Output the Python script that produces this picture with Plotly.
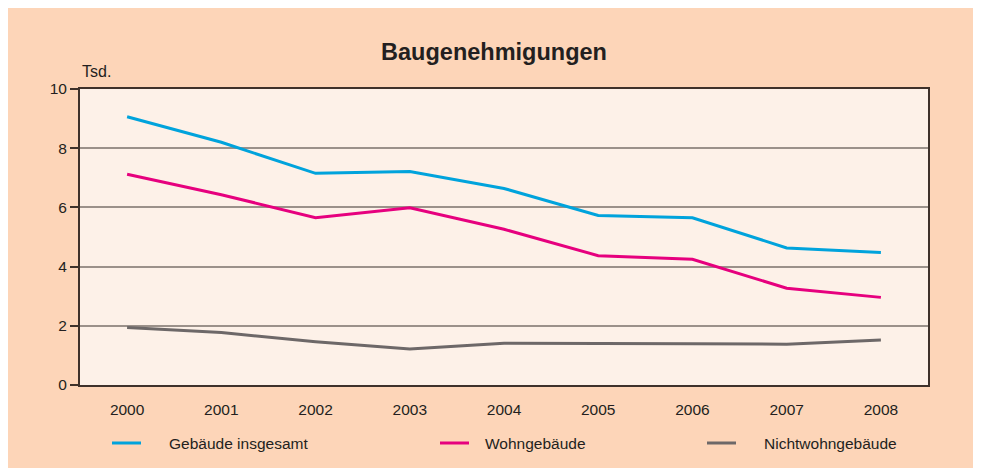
import plotly.graph_objects as go

years = ["2000", "2001", "2002", "2003", "2004", "2005", "2006", "2007", "2008"]
gebaeude_insgesamt = [9.06, 8.20, 7.15, 7.21, 6.64, 5.73, 5.65, 4.63, 4.48]
wohngebaeude = [7.12, 6.43, 5.65, 5.99, 5.26, 4.37, 4.25, 3.27, 2.96]
nichtwohngebaeude = [1.94, 1.77, 1.46, 1.22, 1.41, 1.39, 1.39, 1.38, 1.52]

series_names = ["Gebäude insgesamt", "Wohngebäude", "Nichtwohngebäude"]
series_values = [gebaeude_insgesamt, wohngebaeude, nichtwohngebaeude]
series_colors = ["#00a3dc", "#e6007e", "#6d6868"]

y_ticks = [0, 2, 4, 6, 8, 10]

FONT = "Liberation Sans, Arial, sans-serif"
TXT = "#231f20"
FRAME = "#3e312a"

fig = go.Figure()
for name, vals, col in zip(series_names, series_values, series_colors):
    fig.add_trace(go.Scatter(x=years, y=vals, name=name, mode="lines",
                             line=dict(color=col, width=3), showlegend=False))

# page body has an 8px margin; figure placed at (8, 8) in the window
OFF = 8
W, H = 981 - OFF, 468 - OFF
# plot area in window pixels: x 80..928, y 89..385
L, R, T, B = 80 - OFF, 981 - 928, 89 - OFF, 468 - 385
pw, ph = W - L - R, H - T - B

def px(xw):
    return (xw - OFF - L) / pw

def py(yw):
    return (H - B - (yw - OFF)) / ph

shapes = []
annotations = [dict(text="Tsd.", xref="paper", yref="paper", x=px(80), y=py(72),
                    xanchor="left", yanchor="middle", showarrow=False,
                    font=dict(family=FONT, size=16, color=TXT))]

# custom legend (window pixel positions)
leg_line_x = [112, 440, 707]
leg_text_x = [167, 483, 762]
for name, col, lx, tx in zip(series_names, series_colors, leg_line_x, leg_text_x):
    shapes.append(dict(type="line", xref="paper", yref="paper",
                       x0=px(lx), x1=px(lx + 29), y0=py(443), y1=py(443),
                       line=dict(color=col, width=3)))
    annotations.append(dict(text=name, xref="paper", yref="paper",
                            x=px(tx), y=py(443), xanchor="left", yanchor="middle",
                            showarrow=False, font=dict(family=FONT, size=15.5, color=TXT)))

fig.update_layout(
    width=W, height=H,
    margin=dict(l=L, r=R, t=T, b=B, pad=0),
    paper_bgcolor="#fdd5b8",
    plot_bgcolor="#fdf1e8",
    font=dict(family=FONT, color=TXT, size=15),
    title=dict(text="<b>Baugenehmigungen</b>", x=(494 - OFF) / W, xanchor="center",
               y=1 - (52 - OFF) / H, yanchor="middle",
               font=dict(family=FONT, size=23.5, color=TXT)),
    xaxis=dict(type="category", range=[-0.5, 8.5], showgrid=False,
               showline=True, linecolor=FRAME, linewidth=2, mirror=True,
               ticks="outside", ticklen=9, tickcolor="rgba(0,0,0,0)",
               tickfont=dict(family=FONT, size=15.5, color=TXT), zeroline=False),
    yaxis=dict(range=[0, 10], tickvals=y_ticks, showgrid=True, gridcolor="#9b918a",
               gridwidth=1.5, showline=True, linecolor=FRAME, linewidth=2, mirror=True,
               ticks="outside", ticklen=8, tickcolor=FRAME, tickwidth=1.5,
               tickfont=dict(family=FONT, size=15.5, color=TXT), zeroline=False),
    shapes=shapes,
    annotations=annotations,
)

fig.write_html("out.html", config={"displayModeBar": False})
